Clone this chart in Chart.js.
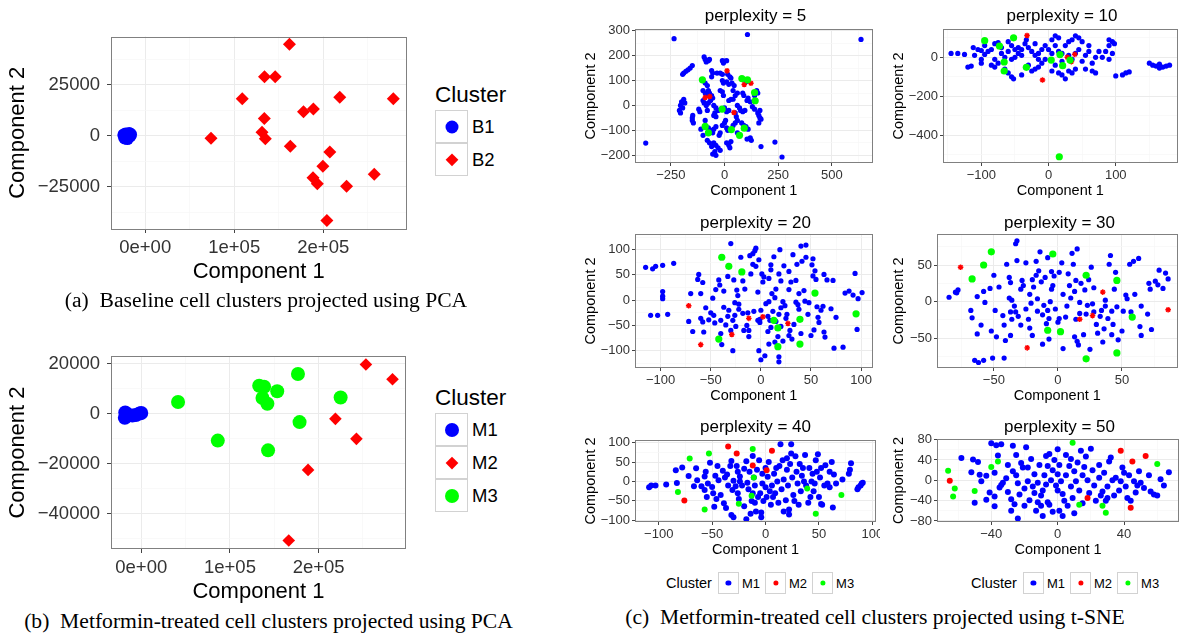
<!DOCTYPE html>
<html>
<head>
<meta charset="utf-8">
<script src="https://cdn.jsdelivr.net/npm/chart.js@4.4.0/dist/chart.umd.min.js"></script>
<style>
  body { margin: 0; background: #fff; width: 1183px; height: 640px; position: relative; overflow: hidden;
         font-family: "Liberation Sans", Arial, Helvetica, sans-serif; }
  canvas { position: absolute; }
  .txt { position: absolute; white-space: nowrap; line-height: 1; transform: translate(-50%, -50%); }
  .cap { font-family: "Liberation Serif", "Times New Roman", serif; font-size: 21.6px; }
  .key { position: absolute; box-sizing: border-box; border: 1px solid #d2d2d2; background: #fff; }
  .sym { position: absolute; left: 50%; top: 50%; }
  .hleg { position: absolute; display: flex; align-items: center; transform: translateY(-50%); font-size: 13px; }
  .hleg .k { position: relative; width: 21px; height: 22px; box-sizing: border-box; border: 1px solid #d2d2d2; margin-right: 3px; }
  .hleg .l { margin-right: 5px; }
</style>
</head>
<body>
<script>
// ---- data: PCA, baseline cells ----
const pcaB1 = [[-24000, 300], [-23000, -1200], [-21000, 0], [-19000, -500], [-17000, -200],
  [-16500, 600], [-22000, 800], [-20000, -1500], [-18000, 1000]];
const pcaB2 = [[162000, 44700], [134000, 28800], [146000, 28800], [109000, 18000], [218500, 18800],
  [278700, 18000], [177800, 11700], [188900, 13000], [133800, 8400], [73900, -1300], [131200, 1600],
  [134900, -1600], [163000, -5300], [207400, -8000], [199600, -15000], [188500, -20700],
  [193300, -23600], [226200, -24800], [257300, -19000], [204100, -41600]];

// ---- data: PCA, metformin-treated cells ----
const pcaM1 = [[-18000, 500], [-18500, -1600], [-15000, -300], [-6000, -500], [-2000, 100], [0, 300], [-10000, -700]];
const pcaM2 = [[253300, 19700], [283300, 13800], [218900, -2000], [242600, -10000], [188100, -22400], [166300, -50600]];
const pcaM3 = [[41500, 4700], [86300, -10700], [133000, 11200], [138500, 10800], [136700, 6300], [142200, 4000],
  [153300, 9000], [176700, 15900], [178500, -3300], [224800, 6500], [143000, -14600]];

// ---- data: t-SNE, perplexity 5 ----
const p5M1 = [[-235, 268], [107, 285], [636, 265], [-367, -151], [268, -207], [235, -147],
  [-150, 160], [-160, 150], [-170, 143], [-180, 137], [-190, 130], [-195, 125],
  [-190, 25], [-200, 15], [-205, 0], [-210, -20], [-205, -30], [-195, -10], [-185, 10],
  [-150, -50], [-150, -60], [-145, -70], [-148, -40],
  [-95, 195], [-90, 185], [-85, 175], [-75, 180], [-70, 185],
  [-10, 180], [0, 178], [10, 180], [-5, 170], [-60, 140], [-55, 130], [-60, 115],
  [-35, 130], [-20, 130], [-10, 125], [15, 125], [25, 115], [30, 110],
  [-10, 100], [-5, 90], [10, 95], [20, 85], [35, 90], [45, 80], [40, 60], [50, 40], [60, 50],
  [-90, 90], [-80, 80], [-100, 60], [-90, 50], [-85, 45],
  [-75, 60], [-70, 50], [-60, 40], [-55, 30], [-65, 20], [-75, 10],
  [-20, 60], [-10, 55], [-5, 40], [-100, 20], [-95, 10], [-85, 0], [-80, -20],
  [-50, 0], [-40, -10], [-30, -20], [-45, -30], [-40, -45], [-50, -40],
  [20, 20], [30, 25], [40, 25], [0, -10], [10, -25], [20, -20],
  [60, 0], [70, -10], [75, -20], [85, -25], [95, -20],
  [50, -30], [55, -45], [60, -60], [50, -70], [40, -80],
  [-75, -90], [-65, -100], [-55, -110], [-50, -95], [-40, -85],
  [-10, -80], [0, -70], [5, -60], [10, -90], [15, -100],
  [80, -70], [90, -80], [100, -85], [110, -95], [105, 20], [110, 30], [120, 15], [130, -5], [140, -15],
  [160, -40], [165, -50], [170, -55], [160, -70], [155, -30], [165, -20],
  [150, 60], [155, 50], [140, 40], [90, 40], [85, 50],
  [120, -130], [125, -140], [105, -135], [170, -165],
  [-50, -150], [-40, -160], [-30, -170], [-20, -180], [-45, -185], [-55, -195], [-40, -200], [-60, -165],
  [-80, -140], [-70, -150], [10, -150], [20, -160], [25, -170], [30, -145],
  [-100, -120], [-110, -95], [-90, -60], [60, -110], [70, -120], [-25, -120], [-20, -110],
  [-120, -15], [-115, -25], [100, 95], [110, 100]];
const p5M2 = [[12, 139], [-90, 32], [-69, 36], [44, -28], [92, 84], [123, 89]];
const p5M3 = [[-103, 103], [-90, -84], [-75, -110], [-11, -15], [32, -97], [70, -120], [92, -91],
  [81, 108], [107, 103], [140, 52], [143, 19]];

// ---- data: t-SNE, perplexity 10 ----
const p10M1 = [[-145, 20], [-135, 20], [-125, 15], [-120, -50], [-115, -45], [-112, 50], [-105, 40], [-100, 35],
  [-110, 10], [-100, -10], [-95, 15], [-90, 30], [-85, 40], [-80, 70], [-75, 75], [-70, 50], [-70, 20],
  [-80, -10], [-85, -40], [-80, -50], [-75, -30], [-65, 0], [-60, 30], [-60, 80], [-55, 60], [-50, 40],
  [-45, 20], [-50, 0], [-55, -10], [-60, -80], [-55, -100], [-52, -110], [-40, 10], [-40, 40], [-35, 70],
  [-33, 90], [-30, 50], [-25, 30], [-20, 10], [-30, -40], [-25, -70], [-20, -60], [-15, -50], [-10, -30],
  [-15, 20], [-10, 40], [-5, 60], [-20, 70], [-15, -10], [-5, -10], [0, 40], [5, 20], [5, 90], [10, 110],
  [15, 100], [10, 60], [15, 30], [20, -20], [10, -40], [5, -70], [15, -80], [20, -90], [25, -110],
  [30, -70], [35, -80], [40, -60], [25, 60], [30, 80], [35, 90], [40, 110], [45, 100], [50, 80],
  [20, 20], [30, 10], [35, -10], [40, 20], [45, 40], [50, -20], [55, -60], [55, 10], [60, 30],
  [65, -70], [70, -80], [70, 0], [75, 30], [80, 0], [90, -10], [85, 30], [90, 90], [95, 80], [98, 70],
  [90, 60], [100, -95], [110, -90], [115, -80], [120, -75], [95, 20], [60, 60], [65, -30],
  [150, -30], [155, -40], [160, -45], [165, -35], [170, -50], [175, -45], [180, -40], [165, -55],
  [-95, 60], [-65, -60], [-40, -90], [-45, 50], [-100, -30]];
const p10M2 = [[-32, 112], [-9, -116], [28, 0], [34, -22], [39, 15]];
const p10M3 = [[-95, 85], [-73, 58], [-52, 100], [-66, -24], [-66, -70], [-33, -51], [4, -14],
  [17, 14], [21, -43], [32, -14], [16, -509]];

// ---- data: t-SNE, perplexity 20 ----
const p20M1 = [[-115, 65], [-108, 62], [-105, 67], [-98, 69], [-87, 73], [-98, 17], [-98, 8], [-98, 3],
  [-110, -30], [-103, -30], [-93, -28], [-72, -42], [-70, 13], [-68, -62], [-63, 41], [-62, 51],
  [-60, 13], [-58, 35], [-58, -43], [-60, -36], [-57, -63], [-55, -15], [-52, -39], [-48, 4], [-47, -30],
  [-46, -45], [-45, 21], [-42, 40], [-41, 30], [-40, -40], [-40, -66], [-39, -88], [-37, -14], [-37, 18],
  [-35, -49], [-33, 47], [-32, -20], [-30, -60], [-30, 112], [-28, -100], [-28, -40], [-27, 40], [-26, -5],
  [-25, -52], [-24, 20], [-23, 9], [-22, -8], [-22, -18], [-20, 85], [-18, -26], [-18, 38], [-17, -60],
  [-16, 22], [-14, -50], [-13, -25], [-12, -60], [-12, -72], [-11, 88], [-10, 52], [-8, 71], [-8, 92],
  [-7, -22], [-6, 98], [-5, 103], [-5, 67], [-3, 16], [-2, -100], [-2, 80], [-1, -38], [-1, -44], [0, -20],
  [0, -118], [1, 52], [2, 36], [3, 46], [4, -110], [5, -7], [7, -62], [7, -32], [8, -3], [8, 43], [9, -40],
  [10, 60], [10, 70], [10, -54], [11, 13], [12, -22], [13, 86], [14, -83], [14, 5], [15, -42], [15, 22],
  [17, -72], [18, -112], [18, -122], [18, -28], [18, 52], [19, 100], [20, -15], [20, 38], [22, -3],
  [22, -81], [23, 68], [25, -36], [26, -28], [28, -70], [28, 21], [28, 57], [29, -60], [30, 36], [31, -77],
  [32, 90], [33, -48], [35, -4], [35, 39], [36, 71], [37, -9], [38, 13], [38, -18], [40, 107], [40, -66],
  [41, 77], [43, 19], [44, -2], [45, 109], [45, 85], [47, -28], [48, -5], [50, -70], [51, 70], [52, 48],
  [52, 82], [53, -59], [54, 58], [55, 41], [56, -13], [57, -34], [58, -44], [60, -20], [62, -12], [63, -63],
  [63, 51], [64, -73], [66, 40], [70, -17], [72, 39], [73, -95], [75, -34], [82, -93], [84, 14], [88, 18],
  [92, 10], [94, 53], [96, -58], [97, 3], [101, 15], [-50, -25], [-33, -32], [-3, -40], [8, -87],
  [20, -52], [24, -11], [-26, -30]];
const p20M2 = [[-72, -11], [-60, -88], [-29, -68], [-12, -36], [2, -33], [27, -46]];
const p20M3 = [[-39, 85], [-32, 67], [-19, 56], [54, 14], [95, -27], [-42, -77], [13, -40], [17, -55],
  [17, -92], [39, -38], [39, -87]];

// ---- data: t-SNE, perplexity 30 ----
const p30M1 = [[-85, 6], [-80, 13], [-78, 16], [-79, 12], [-68, -12], [-67, -22], [-63, -44], [-65, -80],
  [-62, -83], [-58, -80], [-60, -32], [-63, 7], [-58, 14], [-57, -1], [-53, 18], [-52, -40], [-51, -77],
  [-50, 36], [-49, -12], [-48, -48], [-46, 20], [-43, -19], [-42, -32], [-41, -53], [-42, -77], [-40, 51],
  [-38, 33], [-38, 5], [-37, -14], [-37, -46], [-37, 26], [-36, 2], [-36, -24], [-34, -6], [-33, -14],
  [-33, 79], [-32, 83], [-32, 56], [-31, -20], [-29, -32], [-29, 17], [-28, 29], [-27, 22], [-25, -10],
  [-25, 53], [-23, -24], [-22, -36], [-22, 10], [-21, -2], [-20, 30], [-20, -46], [-19, 20], [-17, 55],
  [-17, 36], [-16, -13], [-16, 4], [-15, 42], [-14, 68], [-13, 27], [-12, -18], [-12, -58], [-11, -5],
  [-10, 33], [-9, -30], [-8, -12], [-8, 60], [-7, -51], [-7, -23], [-6, 0], [-5, 17], [-5, 41], [-4, 22],
  [-3, 35], [-2, -10], [0, -28], [1, 40], [1, -23], [3, 53], [4, 10], [4, -64], [6, -21], [7, -6], [8, 38],
  [9, 22], [10, 5], [11, 66], [12, 51], [13, 14], [13, -48], [14, -24], [14, 29], [15, -54], [15, 72],
  [16, -59], [17, -1], [17, -16], [18, 25], [20, -45], [21, 16], [22, -17], [23, -5], [24, 30], [25, -65],
  [26, 47], [27, -3], [28, -14], [28, 19], [30, -31], [31, -43], [33, -20], [34, -12], [35, -55], [36, -37],
  [37, -6], [37, 2], [39, -23], [40, 51], [41, 63], [42, -13], [42, -45], [43, -31], [44, 17], [45, 40],
  [46, -7], [47, -52], [50, -40], [51, -13], [53, 9], [54, 4], [56, 51], [57, -14], [59, 55], [60, 10],
  [63, 59], [64, -34], [65, -46], [65, -6], [70, -17], [71, 25], [72, 17], [73, -38], [76, 28], [78, 23],
  [79, 43], [82, 18], [84, 39], [86, 31]];
const p30M2 = [[-76, 47], [-24, -63], [17, -24], [27, -19], [35, 13], [86, -11]];
const p30M3 = [[-52, 68], [-58, 50], [-67, 31], [-4, 65], [22, 36], [46, 29], [58, -21], [-8, -39],
  [2, -41], [22, -78], [46, -70]];

// ---- data: t-SNE, perplexity 40 ----
const p40M1 = [[-109, -15], [-107, -10], [-103, -10], [-93, -8], [-84, 29], [-83, -4], [-78, 36], [-72, 14],
  [-67, -12], [-65, 34], [-64, 3], [-60, -12], [-57, -22], [-57, 13], [-56, 25], [-55, -40], [-54, -5],
  [-52, 48], [-50, -14], [-49, -30], [-48, -65], [-47, 15], [-46, -45], [-45, 40], [-44, 3], [-42, -35],
  [-40, 28], [-39, -56], [-38, 10], [-37, -68], [-36, 18], [-35, -10], [-33, 40], [-32, -86], [-32, 53],
  [-31, -22], [-30, -92], [-30, 2], [-28, -12], [-27, 40], [-26, -30], [-26, 25], [-25, -45], [-24, 13],
  [-22, -10], [-20, 33], [-20, -64], [-18, -97], [-18, 52], [-17, -3], [-16, -20], [-15, 25], [-14, -83],
  [-13, -50], [-12, 66], [-12, -30], [-11, 10], [-10, -10], [-9, -77], [-8, 30], [-7, -40], [-6, 55],
  [-5, -30], [-4, -92], [-4, -80], [-3, 20], [-3, -5], [-2, -50], [0, 35], [0, -15], [1, -40], [2, 12],
  [3, 50], [4, -25], [5, -60], [6, -10], [7, -40], [8, 20], [9, -30], [10, 35], [11, 0], [12, -55],
  [13, 40], [14, 96], [15, -20], [16, 55], [17, -77], [17, 5], [19, -48], [20, 30], [21, -10], [22, -85],
  [22, -72], [23, 45], [24, 96], [24, 72], [25, 10], [26, -35], [27, -50], [28, 65], [29, 25], [30, -5],
  [31, -60], [32, 45], [33, -25], [34, 15], [35, 35], [37, 68], [38, -10], [40, -55], [41, 35], [42, -40],
  [43, 0], [44, 20], [45, -25], [46, -5], [47, 55], [48, 25], [49, 70], [50, -40], [51, 10], [52, -58],
  [52, 35], [53, -60], [55, -10], [56, 42], [58, -5], [60, -15], [62, 50], [63, -67], [64, 18], [66, -5],
  [72, 5], [78, 20], [79, 30], [80, 47], [86, -20], [87, -15], [89, -10], [90, -5], [91, -3], [-10, -55],
  [20, 60], [-24, 0], [36, 0], [60, 25]];
const p40M2 = [[-35, 90], [-27, 72], [6, 79], [-12, 41], [1, 29], [-76, -49]];
const p40M3 = [[-71, 59], [-53, 72], [-12, 84], [-82, -27], [-57, -72], [-25, -57], [-13, -37], [-11, 10],
  [39, -18], [47, -83], [71, -35]];

// ---- data: t-SNE, perplexity 50 ----
const p50M1 = [[-58, 44], [-52, 16], [-51, 41], [-50, -44], [-48, 36], [-47, 11], [-46, -2], [-43, -38],
  [-43, 9], [-41, -24], [-40, 73], [-38, -51], [-38, 15], [-38, -32], [-37, 69], [-36, 49], [-35, -14],
  [-34, -9], [-34, 71], [-33, -5], [-31, 4], [-30, -23], [-28, -60], [-28, -37], [-27, 18], [-27, 68],
  [-26, -47], [-25, 50], [-25, 10], [-24, -6], [-24, -75], [-23, -28], [-22, 34], [-21, 25], [-20, -16],
  [-19, 65], [-18, -2], [-18, 25], [-17, -39], [-16, 42], [-15, -12], [-14, 12], [-14, -25], [-13, -60],
  [-12, -5], [-12, -43], [-11, 30], [-10, -30], [-9, -70], [-9, -20], [-8, 10], [-7, 48], [-7, -8],
  [-6, 28], [-6, -43], [-5, -48], [-5, 52], [-4, 0], [-3, -62], [-3, 20], [-2, 40], [-1, -10], [0, 61],
  [0, 12], [0, -20], [1, -60], [1, 30], [2, -2], [3, -27], [3, -70], [4, -40], [5, 10], [5, 50], [6, -50],
  [7, 28], [8, 42], [8, -12], [9, -35], [10, -65], [10, 18], [11, -2], [12, 35], [13, -20], [14, 58],
  [15, -45], [15, 10], [16, 26], [17, 47], [18, 0], [19, -25], [20, 62], [21, 20], [22, -10], [23, -40],
  [25, 5], [25, 30], [26, -30], [27, -22], [28, 15], [29, -40], [30, -12], [31, 37], [32, 45], [33, 0],
  [34, -30], [35, 5], [37, -20], [38, -2], [39, 25], [40, 15], [41, -12], [42, -35], [43, 10], [44, -40],
  [46, -2], [47, -24], [48, -10], [49, 18], [50, -5], [52, -15], [55, 10], [56, -22], [58, -28], [60, -30],
  [62, 2], [64, -10], [67, 16], [-10, -50], [30, -35], [-30, 30], [-20, -50]];
const p50M2 = [[-65, -1], [18, -35], [38, 58], [45, 37], [53, 48], [44, -54]];
const p50M3 = [[-66, 19], [-62, -16], [-63, -32], [-50, -21], [-40, 26], [-36, 37], [9, 74], [13, -48],
  [27, -50], [29, -64], [60, 32]];

// ---- tick labels ----
const pcaXTicks = [0, 100000, 200000];
const pcaXLabels = ['0e+00', '1e+05', '2e+05'];
const pcaAYTicks = [-25000, 0, 25000];
const pcaBYTicks = [-40000, -20000, 0, 20000];
const p5XTicks = [-250, 0, 250, 500];
const p5YTicks = [-200, -100, 0, 100, 200, 300];
const p10XTicks = [-100, 0, 100];
const p10YTicks = [-400, -200, 0];
const p20XTicks = [-100, -50, 0, 50, 100];
const p20YTicks = [-100, -50, 0, 50, 100];
const p30XTicks = [-50, 0, 50];
const p30YTicks = [-50, 0, 50];
const p40XTicks = [-100, -50, 0, 50, 100];
const p40YTicks = [-100, -50, 0, 50, 100];
const p50XTicks = [-40, 0, 40];
const p50YTicks = [-80, -40, 0, 40, 80];

const BLUE = '#0000ff', RED = '#ff0000', GREEN = '#00ff00';
const FONT = '"Liberation Sans", Arial, Helvetica, sans-serif';

function fmt(v) { return v < 0 ? '\u2212' + Math.abs(v) : String(v); }

// minor grid lines sit halfway between the major ones
function minorTicks(major, min, max) {
  const step = major[1] - major[0];
  const out = [];
  for (let v = major[0] - step / 2; v <= max; v += step) if (v >= min) out.push(v);
  return out;
}

function axis(o) {
  const minor = minorTicks(o.ticks, o.min, o.max);
  const labels = o.labels || o.ticks.map(fmt);
  const isMajor = v => o.ticks.indexOf(v) >= 0;
  return {
    type: 'linear', min: o.min, max: o.max,
    afterBuildTicks: s => { s.ticks = o.ticks.concat(minor).sort((a, b) => a - b).map(v => ({ value: v })); },
    afterFit: s => {
      if (s.isHorizontal()) s.height = o.size; else s.width = o.size;
      s.paddingLeft = s.paddingRight = s.paddingTop = s.paddingBottom = 0;
    },
    ticks: {
      autoSkip: false, maxRotation: 0, minRotation: 0, padding: o.pad, color: '#333',
      font: { family: FONT, size: o.tickSize },
      callback: v => { const i = o.ticks.indexOf(v); return i < 0 ? '' : labels[i]; }
    },
    grid: {
      color: c => isMajor(c.tick.value) ? '#ebebeb' : '#f6f6f6',
      lineWidth: c => isMajor(c.tick.value) ? 1 : 0.7,
      tickLength: o.tl,
      tickColor: c => isMajor(c.tick.value) ? '#444' : 'rgba(0,0,0,0)'
    },
    border: { display: false },
    title: { display: true, text: o.title, color: '#000', font: { family: FONT, size: o.titleSize },
             padding: { top: o.titlePad, bottom: o.titlePad } }
  };
}

const panelBorder = {
  id: 'panelBorder',
  afterDatasetsDraw(chart) {
    const { ctx, chartArea: a } = chart;
    ctx.save();
    ctx.strokeStyle = '#808080';
    ctx.lineWidth = 1;
    ctx.strokeRect(Math.round(a.left) + 0.5, Math.round(a.top) + 0.5,
                   Math.round(a.right - a.left) - 1, Math.round(a.bottom - a.top) - 1);
    ctx.restore();
  }
};

function drawPanel(p) {
  const c = document.createElement('canvas');
  c.width = p.w; c.height = p.h;
  c.style.left = p.x + 'px'; c.style.top = p.y + 'px';
  document.body.appendChild(c);
  new Chart(c, {
    type: 'scatter',
    data: {
      datasets: p.sets.map((s, i) => ({
        label: s.label,
        data: s.data.map(([x, y]) => ({ x, y })),
        pointStyle: s.style || 'circle',
        pointRadius: s.r,
        backgroundColor: s.color,
        borderColor: s.color,
        borderWidth: s.bw || 0,
        order: p.sets.length - i
      }))
    },
    options: {
      responsive: false, animation: false, events: [],
      layout: { padding: { top: p.pt, right: p.pr, left: 0, bottom: 0 } },
      plugins: { legend: { display: false }, tooltip: { enabled: false } },
      scales: {
        x: axis(Object.assign({ size: p.xH, tickSize: p.tickSize, titleSize: p.titleSize, tl: p.tl,
                                pad: p.xPad, titlePad: p.xTitlePad, title: 'Component 1' }, p.xAxis)),
        y: axis(Object.assign({ size: p.yW, tickSize: p.tickSize, titleSize: p.titleSize, tl: p.tl,
                                pad: p.yPad, titlePad: p.yTitlePad, title: 'Component 2' }, p.yAxis))
      }
    },
    plugins: [panelBorder]
  });
}

function text(str, x, y, style) {
  const d = document.createElement('div');
  d.className = 'txt' + (style.cls ? ' ' + style.cls : '');
  d.textContent = str;
  d.style.left = x + 'px'; d.style.top = y + 'px';
  if (style.size) d.style.fontSize = style.size + 'px';
  document.body.appendChild(d);
  return d;
}

function symbol(s, scale) {
  const e = document.createElement('div');
  e.className = 'sym';
  const r = s.r * scale;
  if (s.style === 'rectRot') {
    const side = r * Math.SQRT2;
    e.style.width = side + 'px'; e.style.height = side + 'px';
    e.style.transform = 'translate(-50%,-50%) rotate(45deg)';
  } else {
    e.style.width = 2 * r + 'px'; e.style.height = 2 * r + 'px';
    e.style.borderRadius = '50%';
    e.style.transform = 'translate(-50%,-50%)';
  }
  e.style.background = s.color;
  return e;
}

// ggplot-style legend on the right of a PCA panel
function vLegend(sets, x, titleY, boxTop) {
  const t = text('Cluster', x, titleY, { size: 22.5 });
  t.style.transform = 'translate(0,-50%)';
  sets.forEach((s, i) => {
    const k = document.createElement('div');
    k.className = 'key';
    k.style.left = x + 'px'; k.style.top = (boxTop + i * 33) + 'px';
    k.style.width = '33px'; k.style.height = '33px';
    k.appendChild(symbol(s, 1));
    document.body.appendChild(k);
    const l = text(s.label, x + 37, boxTop + i * 33 + 16.5, { size: 18.5 });
    l.style.transform = 'translate(0,-50%)';
  });
}

// horizontal legend under the t-SNE panels
function hLegend(names, colors, x, y) {
  const d = document.createElement('div');
  d.className = 'hleg';
  d.style.left = x + 'px'; d.style.top = y + 'px';
  const t = document.createElement('span');
  t.textContent = 'Cluster'; t.style.fontSize = '14.5px'; t.style.marginRight = '6px';
  d.appendChild(t);
  names.forEach((n, i) => {
    const k = document.createElement('div');
    k.className = 'k';
    k.appendChild(symbol({ r: 2.6, color: colors[i] }, 1));
    d.appendChild(k);
    const l = document.createElement('span');
    l.className = 'l'; l.textContent = n;
    d.appendChild(l);
  });
  document.body.appendChild(d);
}

// ---- PCA panels ----
const pcaCommon = { w: 413, pt: 3, pr: 3, yW: 111, xH: 60, tickSize: 18.5, titleSize: 22, tl: 4,
                    xPad: 3.6, yPad: 7, xTitlePad: 4.1, yTitlePad: 5.1 };

drawPanel(Object.assign({}, pcaCommon, {
  x: 0, y: 30, h: 259,
  xAxis: { min: -38400, max: 293500, ticks: pcaXTicks, labels: pcaXLabels },
  yAxis: { min: -45800, max: 48550, ticks: pcaAYTicks },
  sets: [
    { label: 'B1', data: pcaB1, color: BLUE, r: 6.5 },
    { label: 'B2', data: pcaB2, color: RED, r: 6.5, style: 'rectRot' }
  ]
}));
vLegend([{ label: 'B1', color: BLUE, r: 6.5 }, { label: 'B2', color: RED, r: 6.5, style: 'rectRot' }], 435, 95, 110);

drawPanel(Object.assign({}, pcaCommon, {
  x: 0, y: 349, h: 260,
  xAxis: { min: -34100, max: 298500, ticks: pcaXTicks, labels: pcaXLabels },
  yAxis: { min: -54000, max: 23100, ticks: pcaBYTicks },
  sets: [
    { label: 'M1', data: pcaM1, color: BLUE, r: 7 },
    { label: 'M2', data: pcaM2, color: RED, r: 6.3, style: 'rectRot' },
    { label: 'M3', data: pcaM3, color: GREEN, r: 7 }
  ]
}));
vLegend([{ label: 'M1', color: BLUE, r: 7 }, { label: 'M2', color: RED, r: 6.3, style: 'rectRot' },
         { label: 'M3', color: GREEN, r: 7 }], 435, 397.7, 413);

// ---- t-SNE panels ----
const tsneCommon = { pt: 29, xH: 39, tickSize: 13, titleSize: 14.5, tl: 3, xPad: 2, yPad: 2,
                     xTitlePad: 2.8, yTitlePad: 2.5 };

function tsneSets(m1, m2, m3, big) {
  if (big) {
    return [
      { label: 'M1', data: m1, color: BLUE, r: 3 },
      { label: 'M2', data: m2, color: RED, r: 3 },
      { label: 'M3', data: m3, color: GREEN, r: 3 }
    ];
  }
  return [
    { label: 'M1', data: m1, color: BLUE, r: 2.6 },
    { label: 'M2', data: m2, color: RED, r: 2.8, style: 'star', bw: 1.4 },
    { label: 'M3', data: m3, color: GREEN, r: 3.6 }
  ];
}

const tsne = [
  { name: 'perplexity = 5', x: 580, y: 0, w: 298, h: 202, pr: 2, yW: 55, titleY: 15,
    xAxis: { min: -417, max: 690, ticks: p5XTicks }, yAxis: { min: -231, max: 307, ticks: p5YTicks },
    sets: tsneSets(p5M1, p5M2, p5M3, false) },
  { name: 'perplexity = 10', x: 888, y: 0, w: 295, h: 202, pr: 2, yW: 55, titleY: 15,
    xAxis: { min: -157, max: 192, ticks: p10XTicks }, yAxis: { min: -541, max: 145, ticks: p10YTicks },
    sets: tsneSets(p10M1, p10M2, p10M3, false) },
  { name: 'perplexity = 20', x: 580, y: 205, w: 298, h: 202, pr: 2, yW: 55, titleY: 221.7,
    xAxis: { min: -125.6, max: 111.5, ticks: p20XTicks }, yAxis: { min: -134.3, max: 131, ticks: p20YTicks },
    sets: tsneSets(p20M1, p20M2, p20M3, false) },
  { name: 'perplexity = 30', x: 888, y: 205, w: 295, h: 202, pr: 1, yW: 49, titleY: 221.7,
    xAxis: { min: -94.4, max: 93.4, ticks: p30XTicks }, yAxis: { min: -90.5, max: 92.3, ticks: p30YTicks },
    sets: tsneSets(p30M1, p30M2, p30M3, false) },
  { name: 'perplexity = 40', x: 580, y: 411, w: 300, h: 150, pr: 4, yW: 55, titleY: 426,
    xAxis: { min: -122.2, max: 103.4, ticks: p40XTicks }, yAxis: { min: -104.3, max: 106.9, ticks: p40YTicks },
    sets: tsneSets(p40M1, p40M2, p40M3, true) },
  { name: 'perplexity = 50', x: 888, y: 410, w: 295, h: 151, pr: 1, yW: 49, titleY: 426,
    xAxis: { min: -72.7, max: 73.1, ticks: p50XTicks }, yAxis: { min: -82, max: 81.3, ticks: p50YTicks },
    sets: tsneSets(p50M1, p50M2, p50M3, true) }
];

tsne.forEach(p => {
  drawPanel(Object.assign({}, tsneCommon, p));
  const left = p.x + p.yW, right = p.x + p.w - p.pr;
  text(p.name, (left + right) / 2, p.titleY, { size: 17 });
});

hLegend(['M1', 'M2', 'M3'], [BLUE, RED, GREEN], 666, 583.3);
hLegend(['M1', 'M2', 'M3'], [BLUE, RED, GREEN], 971, 583.3);

// ---- captions ----
text('(a)\u2002Baseline cell clusters projected using PCA', 266, 301, { cls: 'cap' });
text('(b)\u2002Metformin-treated cell clusters projected using PCA', 268.5, 622, { cls: 'cap' });
text('(c)\u2002Metformin-treated cell clusters projected using t-SNE', 875, 618, { cls: 'cap' });
</script>
</body>
</html>
